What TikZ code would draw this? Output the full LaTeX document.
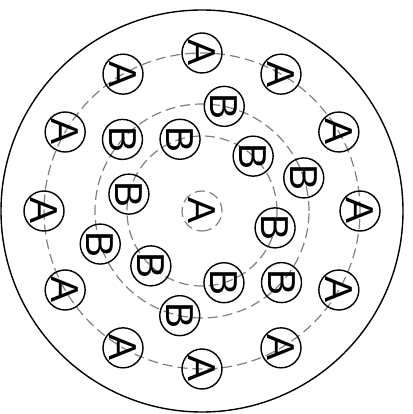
\documentclass[tikz,border=0pt]{standalone}
\usepackage{fontspec}
\setmainfont{Liberation Sans}
\usetikzlibrary{positioning}
\tikzset{
  atom/.style={circle,draw,line width=1.4pt,minimum size=40pt,inner sep=0pt,
    font=\fontsize{39}{39}\selectfont,rotate=-90},
  ring/.style={gray,line width=1.2pt,dash pattern=on 10pt off 5pt}
}

\begin{document}
\begin{tikzpicture}[x=1pt,y=1pt]
    \useasboundingbox (-202,-203) rectangle (210,211);
    \draw[line width=1.4pt] (0,0) circle (201);
    \draw[ring] (0,0) circle (75);
    \draw[ring] (0,0) circle (107);
    \draw[ring] (0,0) circle (158);
    % centre
    \node[atom,draw=gray,line width=1.2pt,dash pattern=on 10pt off 5pt] (c) at (0,0){A};
    % inner ring of B
    \node[atom] (b1) at (107:75){B};
    \node[atom] (b2) at (47:75){B};
    \node[atom] (b3) at (-13:75){B};
    \node[atom] (b4) at (-73:75){B};
    \node[atom] (b5) at (-133:75){B};
    \node[atom] (b6) at (167:75){B};
    % middle ring of B
    \node[atom] (b7) at (78:107){B};
    \node[atom] (b8) at (18:107){B};
    \node[atom] (b9) at (-42:107){B};
    \node[atom] (b10) at (-102:107){B};
    \node[atom] (b11) at (-162:107){B};
    \node[atom] (b12) at (138:107){B};
    % outer ring of A
    \node[atom] (a1) at (90:158){A};
    \node[atom] (a2) at (60:158){A};
    \node[atom] (a3) at (30:158){A};
    \node[atom] (a4) at (0:158){A};
    \node[atom] (a5) at (-30:158){A};
    \node[atom] (a6) at (-60:158){A};
    \node[atom] (a7) at (-90:158){A};
    \node[atom] (a8) at (-120:158){A};
    \node[atom] (a9) at (-150:158){A};
    \node[atom] (a10) at (180:158){A};
    \node[atom] (a11) at (150:158){A};
    \node[atom] (a12) at (120:158){A};
  \end{tikzpicture}
\end{document}
